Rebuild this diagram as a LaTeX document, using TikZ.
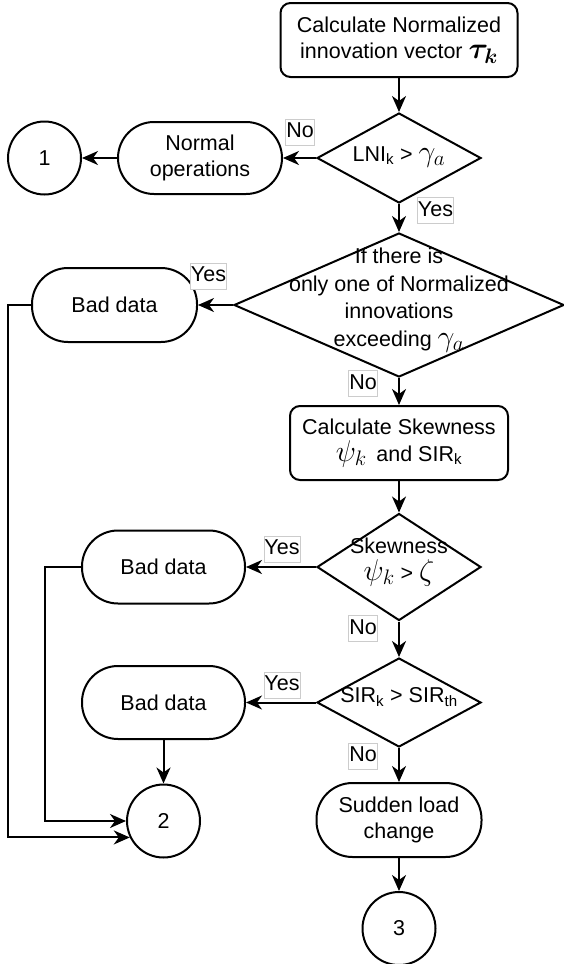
\RequirePackage{fix-cm}
\documentclass[tikz,border=0pt]{standalone}
\usepackage{fontspec}
\setmainfont{Liberation Sans}
\usepackage{amsmath}
\usepackage{bm}
\usetikzlibrary{arrows.meta,shapes.geometric,calc}

% symbols are set a little larger than the surrounding text
\newcommand{\mth}[1]{{\fontsize{30}{30}\selectfont$#1$}}

\begin{document}
\begin{tikzpicture}[x=1pt,y=-1pt,
  font=\fontsize{21.5}{26.5}\selectfont,
  line width=2pt,
  arr/.style={-{Stealth[length=16pt,width=14pt,inset=5pt]}},
  procbox/.style={draw, fill=white, rounded corners=10pt, inner sep=0pt, align=center},
  terminal/.style={draw, fill=white, rounded corners=36pt, minimum width=165pt,
    minimum height=74pt, inner sep=0pt, align=center},
  connector/.style={draw, fill=white, circle, minimum size=73pt, inner sep=0pt},
  decision/.style={draw, diamond, inner sep=0pt},
  flowtext/.style={align=center, inner sep=0pt},
  tag/.style={draw=black!20, line width=0.7pt, fill=white, inner xsep=0.6pt,
    inner ysep=0pt, minimum height=26pt, text height=16pt, text depth=5pt},
]
\useasboundingbox (0,0) rectangle (563,964);

% rails on the left that collect the bad-data branches
\coordinate (railA) at (8,0);
\coordinate (railB) at (45,0);

% main column
\node[procbox, minimum width=237pt, minimum height=74pt] (top) at (399,40)
  {Calculate Normalized\\innovation vector \mth{\bm{\tau}_{\bm{k}}}};

\node[decision, minimum width=164pt, minimum height=90pt] (d1) at (399,158) {};
\node[flowtext, fill=white, inner sep=1pt] (d1t) at (399,157)
  {LNI\textsubscript{k} > \mth{\gamma_a}};

\node[decision, minimum width=330pt, minimum height=144pt] (d2) at (399,305) {};
\node[flowtext, font=\fontsize{21.5}{27.6}\selectfont] (d2t) at (399,300)
  {If there is\\only one of Normalized\\innovations\\exceeding \mth{\gamma_a}};

\node[procbox, minimum width=218pt, minimum height=74pt] (cs) at (399,443)
  {Calculate Skewness\\\mth{\psi_k}\, and SIR\textsubscript{k}};

\node[decision, minimum width=164pt, minimum height=107pt] (d3) at (399,567) {};
\node[flowtext] (d3t) at (399,562) {Skewness\\\mth{\psi_k} > \mth{\zeta}};

\node[decision, minimum width=164pt, minimum height=89pt] (d4) at (399,702.5) {};
\node[flowtext] (d4t) at (399,697) {SIR\textsubscript{k} > SIR\textsubscript{th}};

\node[terminal] (slc) at (399,820) {Sudden load\\change};
\node[connector] (c3) at (399,928.5) {3};

% side branches
\node[terminal, minimum width=164pt, minimum height=72pt] (nop) at (200,158)
  {Normal\\operations};
\node[connector] (c1) at (44.5,158) {1};

\node[terminal] (bd1) at (114.5,305) {Bad data};
\node[terminal, minimum width=163pt, minimum height=73pt] (bd2) at (163.5,567) {Bad data};
\node[terminal, minimum width=163pt, minimum height=73pt] (bd3) at (163.5,702.5) {Bad data};
\node[connector] (c2) at (163.5,821) {2};

% connectors
\draw[arr] (top) -- (d1);
\draw[arr] (d1) -- (nop);
\draw[arr] (nop) -- (c1);
\draw[arr] (d1) -- (d2);
\draw[arr] (d2) -- (bd1);
\draw[arr] (d2) -- (cs);
\draw[arr] (cs) -- (d3);
\draw[arr] (d3) -- (bd2);
\draw[arr] (d3) -- (d4);
\draw[arr] (d4) -- (bd3);
\draw[arr] (d4) -- (slc);
\draw[arr] (slc) -- (c3);
\draw[arr] (bd3) -- (c2);
\draw[arr] (bd2.west) -- (bd2.west -| railB) |- (c2.west);
\draw[arr] (bd1.west) -- (bd1.west -| railA) |- (c2.206);

% branch labels
\node[tag] (no1) at (300,132) {No};
\node[tag] (yes1) at (435.5,210.5) {Yes};
\node[tag] (yes2) at (208.5,276) {Yes};
\node[tag] (no2) at (363,383.5) {No};
\node[tag] (yes3) at (282,549) {Yes};
\node[tag] (no3) at (363,628.5) {No};
\node[tag] (yes4) at (282,685) {Yes};
\node[tag] (no4) at (363,756) {No};
\end{tikzpicture}
\end{document}
